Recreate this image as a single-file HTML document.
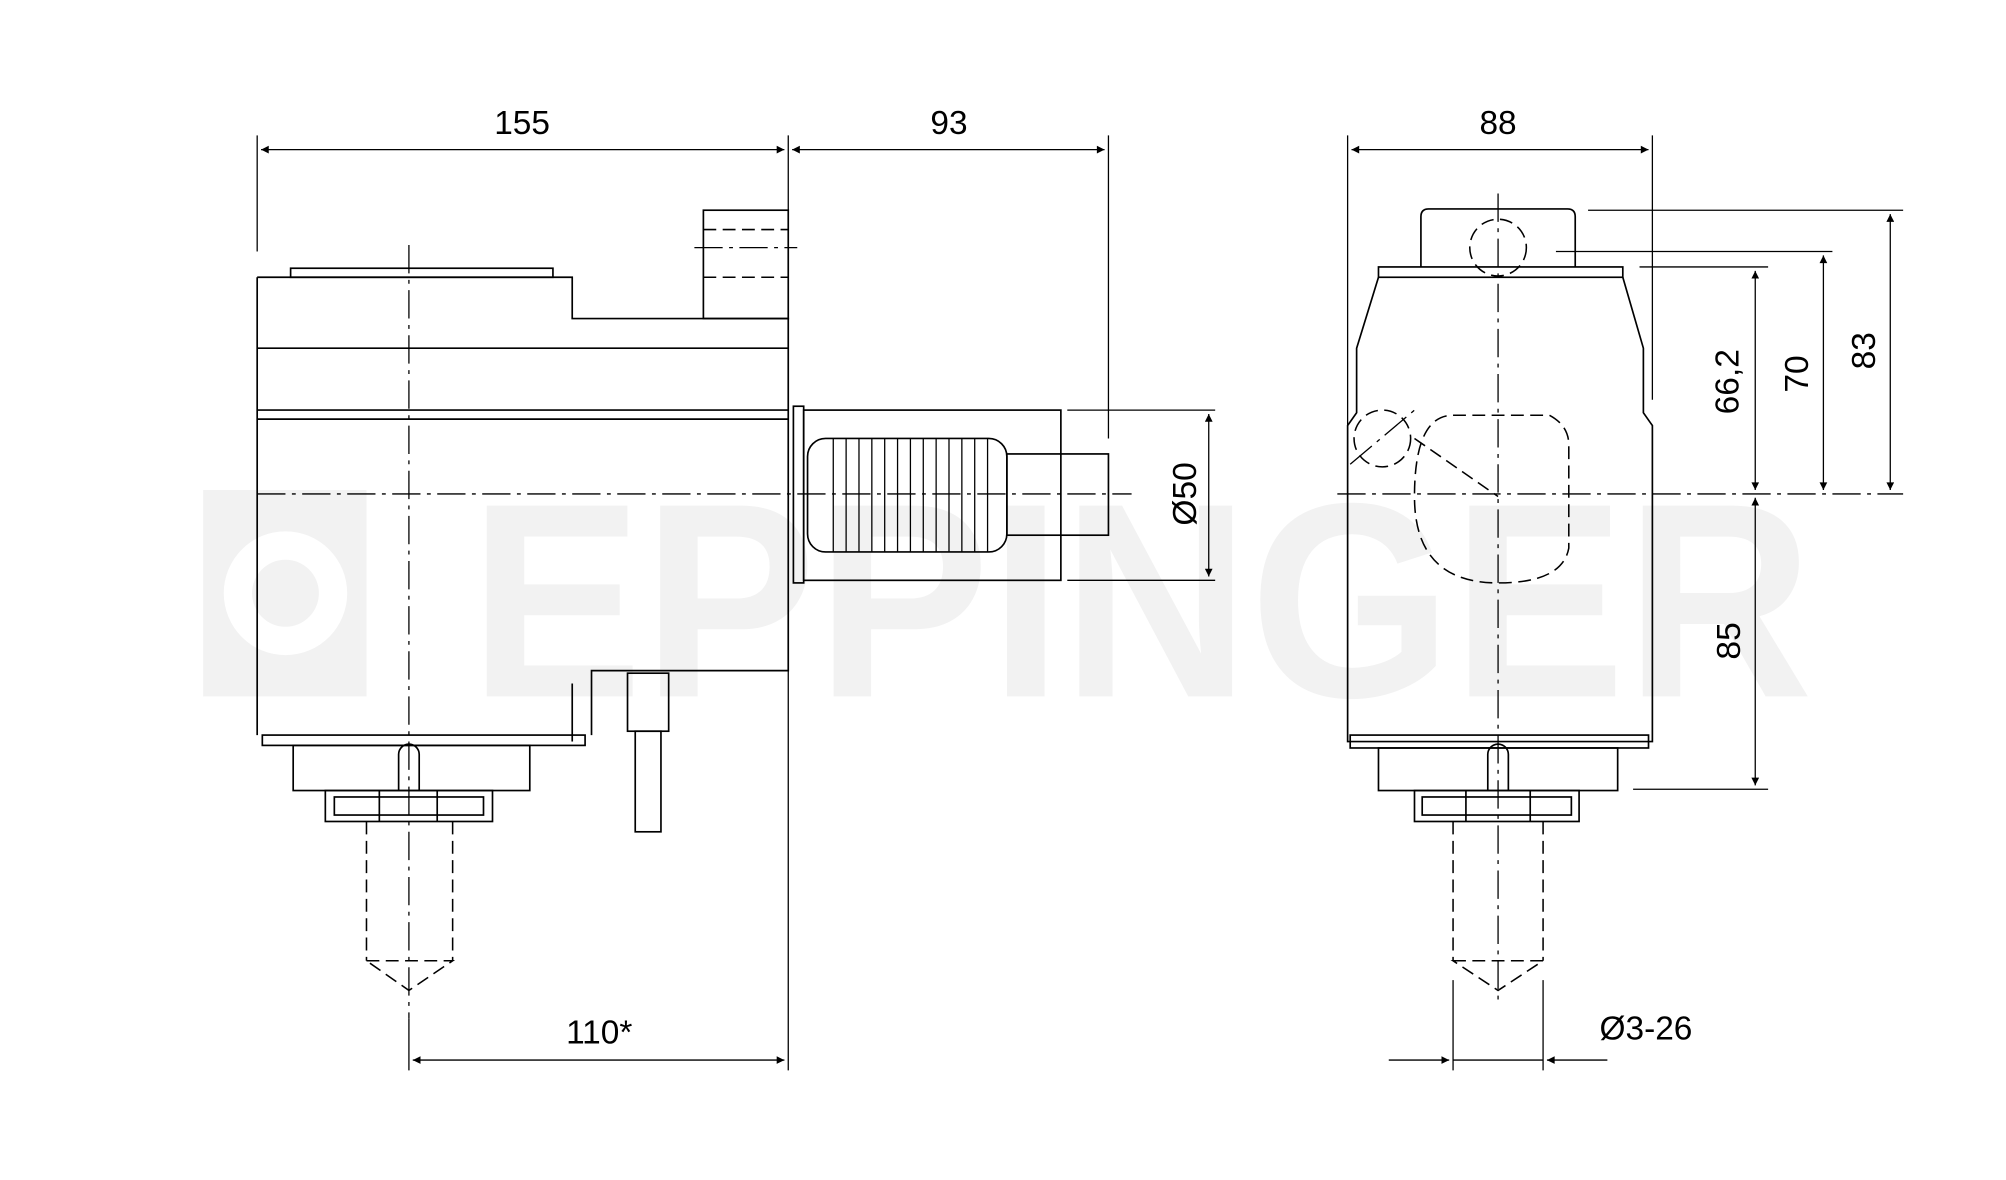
<!DOCTYPE html>
<html><head><style>html,body{margin:0;padding:0;background:#fff}svg{display:block}</style></head>
<body>
<svg width="2006" height="1180" viewBox="0 0 1560 915" preserveAspectRatio="none" xmlns="http://www.w3.org/2000/svg" font-family="Liberation Sans, sans-serif">
<defs>
<marker id="a" viewBox="0 0 10 10" refX="10" refY="5" markerWidth="14" markerHeight="6" orient="auto-start-reverse" markerUnits="userSpaceOnUse"><path d="M0,0 L10,5 L0,10 z" fill="#000"/></marker>
</defs>
<!-- watermark -->
<rect x="158" y="380" width="127" height="160" fill="#f2f2f2"/>
<circle cx="222" cy="460" r="48" fill="#fff"/>
<circle cx="222" cy="460" r="26" fill="#f2f2f2"/>
<text x="365" y="540" font-size="215" font-weight="bold" fill="#f2f2f2" textLength="1045" lengthAdjust="spacingAndGlyphs">EPPINGER</text>

<g stroke="#000" fill="none" stroke-width="1.3">
<path d="M200,215 H445 V247 H613 V520 H460 V570"/>
<path d="M200,215 V570"/>
<rect x="226" y="208" width="204" height="7"/>
<rect x="547" y="163" width="66" height="84"/>
<line x1="200" y1="270" x2="613" y2="270"/>
<line x1="200" y1="318" x2="613" y2="318"/>
<line x1="200" y1="325" x2="613" y2="325"/>
<rect x="204" y="570" width="251" height="8"/>
<rect x="228" y="578" width="184" height="35"/>
<rect x="253" y="613" width="130" height="24"/>
<rect x="260" y="618" width="116" height="14"/>
<line x1="295" y1="613" x2="295" y2="637"/><line x1="340" y1="613" x2="340" y2="637"/>
<path d="M310,613 V585 A8,8 0 0 1 326,585 V613"/>
<rect x="488" y="522" width="32" height="45"/>
<rect x="494" y="567" width="20" height="78"/>
<line x1="445" y1="530" x2="445" y2="575"/>
<rect x="617" y="315" width="8" height="137"/>
<rect x="625" y="318" width="200" height="132"/>
<rect x="628" y="340" width="155" height="88" rx="14"/>
<g stroke-width="1">
<line x1="648" y1="340" x2="648" y2="428"/><line x1="658" y1="340" x2="658" y2="428"/><line x1="668" y1="340" x2="668" y2="428"/><line x1="678" y1="340" x2="678" y2="428"/><line x1="688" y1="340" x2="688" y2="428"/><line x1="698" y1="340" x2="698" y2="428"/><line x1="708" y1="340" x2="708" y2="428"/><line x1="718" y1="340" x2="718" y2="428"/><line x1="728" y1="340" x2="728" y2="428"/><line x1="738" y1="340" x2="738" y2="428"/><line x1="748" y1="340" x2="748" y2="428"/><line x1="758" y1="340" x2="758" y2="428"/><line x1="768" y1="340" x2="768" y2="428"/>
</g>
<rect x="783" y="352" width="79" height="63"/>
<path d="M1105,207 V168 Q1105,162 1111,162 H1219 Q1225,162 1225,168 V207"/>
<rect x="1072" y="207" width="190" height="8"/>
<path d="M1072,215 L1055,270 V320 L1048,330 V575 H1285 V330 L1278,320 V270 L1262,215"/>
<rect x="1050" y="570" width="232" height="10"/>
<rect x="1072" y="580" width="186" height="33"/>
<rect x="1100" y="613" width="128" height="24"/>
<rect x="1106" y="618" width="116" height="14"/>
<line x1="1140" y1="613" x2="1140" y2="637"/><line x1="1190" y1="613" x2="1190" y2="637"/>
<path d="M1157,613 V585 A8,8 0 0 1 1173,585 V613"/>
</g>
<g stroke="#000" fill="none" stroke-width="1.2" stroke-dasharray="10,5">
<line x1="547" y1="178" x2="613" y2="178"/><line x1="547" y1="215" x2="613" y2="215"/>
<line x1="285" y1="637" x2="285" y2="745"/><line x1="352" y1="637" x2="352" y2="745"/>
<path d="M285,745 H352 L318,768 Z"/>
<line x1="1130" y1="637" x2="1130" y2="745"/><line x1="1200" y1="637" x2="1200" y2="745"/>
<path d="M1130,745 H1200 L1165,768 Z"/>
<circle cx="1165" cy="192" r="22"/>
<path d="M1130,322 H1205 Q1220,330 1220,345 V425 Q1215,452 1165,452 Q1100,452 1100,385 Q1100,322 1130,322 Z"/>
<circle cx="1075" cy="340" r="22"/>
<line x1="1100" y1="340" x2="1165" y2="385"/>
</g>
<g stroke="#000" fill="none" stroke-width="1" stroke-dasharray="22,5,3,5">
<line x1="318" y1="190" x2="318" y2="790"/>
<line x1="200" y1="383" x2="880" y2="383"/>
<line x1="1165" y1="150" x2="1165" y2="780"/>
<line x1="1040" y1="383" x2="1480" y2="383"/>
<line x1="540" y1="192" x2="620" y2="192"/>
<line x1="1050" y1="360" x2="1100" y2="318"/>
</g>
<g stroke="#000" fill="none" stroke-width="1">
<line x1="200" y1="105" x2="200" y2="195"/>
<line x1="613" y1="105" x2="613" y2="830"/>
<line x1="862" y1="105" x2="862" y2="340"/>
<line x1="203" y1="116" x2="610" y2="116" marker-start="url(#a)" marker-end="url(#a)"/>
<line x1="616" y1="116" x2="859" y2="116" marker-start="url(#a)" marker-end="url(#a)"/>
<line x1="830" y1="318" x2="945" y2="318"/><line x1="830" y1="450" x2="945" y2="450"/>
<line x1="940" y1="321" x2="940" y2="447" marker-start="url(#a)" marker-end="url(#a)"/>
<line x1="318" y1="790" x2="318" y2="830"/>
<line x1="321" y1="822" x2="610" y2="822" marker-start="url(#a)" marker-end="url(#a)"/>
<line x1="1048" y1="105" x2="1048" y2="330"/><line x1="1285" y1="105" x2="1285" y2="310"/>
<line x1="1051" y1="116" x2="1282" y2="116" marker-start="url(#a)" marker-end="url(#a)"/>
<line x1="1235" y1="163" x2="1480" y2="163"/>
<line x1="1210" y1="195" x2="1425" y2="195"/>
<line x1="1275" y1="207" x2="1375" y2="207"/>
<line x1="1270" y1="612" x2="1375" y2="612"/>
<line x1="1470" y1="166" x2="1470" y2="380" marker-start="url(#a)" marker-end="url(#a)"/>
<line x1="1418" y1="198" x2="1418" y2="380" marker-start="url(#a)" marker-end="url(#a)"/>
<line x1="1365" y1="210" x2="1365" y2="380" marker-start="url(#a)" marker-end="url(#a)"/>
<line x1="1365" y1="386" x2="1365" y2="609" marker-start="url(#a)" marker-end="url(#a)"/>
<line x1="1130" y1="760" x2="1130" y2="830"/><line x1="1200" y1="760" x2="1200" y2="830"/>
<line x1="1080" y1="822" x2="1127" y2="822" marker-end="url(#a)"/>
<line x1="1250" y1="822" x2="1203" y2="822" marker-end="url(#a)"/>
<line x1="1130" y1="822" x2="1200" y2="822"/>
</g>
<g font-size="26" fill="#000" text-anchor="middle">
<text x="406" y="104">155</text>
<text x="738" y="104">93</text>
<text x="1165" y="104">88</text>
<text x="466" y="809">110*</text>
<text x="1280" y="806">Ø3-26</text>
<text transform="translate(930,383) rotate(-90)">Ø50</text>
<text transform="translate(1458,272) rotate(-90)">83</text>
<text transform="translate(1406,290) rotate(-90)">70</text>
<text transform="translate(1352,296) rotate(-90)">66,2</text>
<text transform="translate(1353,497) rotate(-90)">85</text>
</g>
</svg>
</body></html>
